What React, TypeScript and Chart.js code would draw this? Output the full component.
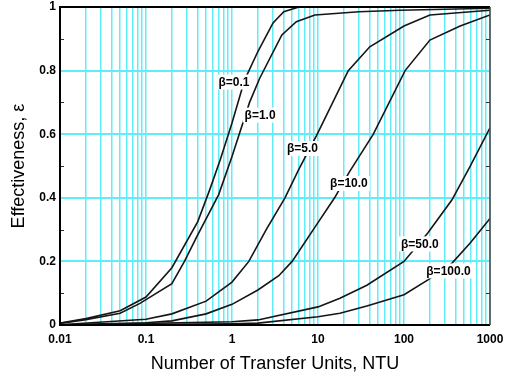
import React, { useEffect, useRef } from 'react';
import { Chart, registerables } from 'chart.js';

Chart.register(...registerables);

const FONT = '"Liberation Sans", Arial, Helvetica, sans-serif';
const GRID = 'rgb(95,238,248)';

const xTickLabels = ['0.01', '0.1', '1', '10', '100', '1000'];
const yTickLabels = ['0', '0.2', '0.4', '0.6', '0.8', '1'];
const seriesNames = ['β=0.1', 'β=1.0', 'β=5.0', 'β=10.0', 'β=50.0', 'β=100.0'];

// β = 0.1
const ntuB01 = [0.01, 0.02, 0.05, 0.1, 0.2, 0.4, 0.55, 0.73, 1, 1.4, 2, 3, 4, 6, 1000];
const effB01 = [0.006, 0.02, 0.045, 0.088, 0.18, 0.325, 0.425, 0.52, 0.635, 0.77, 0.86, 0.95, 0.985, 1.0, 1.0];
// β = 1.0
const ntuB1 = [0.01, 0.02, 0.05, 0.085, 0.2, 0.28, 0.39, 0.7, 1, 1.6, 2.1, 3.8, 5.6, 9.2, 30, 90, 1000];
const effB1 = [0.005, 0.017, 0.037, 0.068, 0.13, 0.2, 0.278, 0.41, 0.53, 0.7, 0.776, 0.912, 0.954, 0.975, 0.985, 0.99, 0.996];
// β = 5.0
const ntuB5 = [0.01, 0.1, 0.2, 0.5, 1, 1.57, 2.5, 4.13, 6, 9.8, 22.5, 40, 100, 200, 1000];
const effB5 = [0.001, 0.018, 0.035, 0.075, 0.135, 0.2, 0.3, 0.4, 0.49, 0.6, 0.8, 0.875, 0.94, 0.975, 0.99];
// β = 10.0
const ntuB10 = [0.01, 0.1, 0.2, 0.5, 1, 2, 3.5, 5, 9.6, 15.6, 23, 44, 103, 200, 450, 1000];
const effB10 = [0.0005, 0.007, 0.013, 0.035, 0.065, 0.11, 0.155, 0.2, 0.315, 0.4, 0.48, 0.6, 0.8, 0.896, 0.94, 0.975];
// β = 50.0
const ntuB50 = [0.01, 1, 2, 10, 18, 37, 100, 190, 360, 585, 1000];
const effB50 = [0.0, 0.01, 0.016, 0.057, 0.084, 0.125, 0.2, 0.29, 0.393, 0.498, 0.62];
// β = 100.0
const ntuB100 = [0.01, 1, 2, 10, 18, 37, 100, 190, 360, 585, 1000];
const effB100 = [0.0, 0.004, 0.006, 0.026, 0.037, 0.06, 0.095, 0.142, 0.194, 0.257, 0.335];

// label anchors (NTU, ε)
const labelNtu = [1.055, 2.12, 6.6, 22.9, 153, 329];
const labelEff = [0.764, 0.66, 0.555, 0.445, 0.255, 0.17];

const seriesNtu = [ntuB01, ntuB1, ntuB5, ntuB10, ntuB50, ntuB100];
const seriesEff = [effB01, effB1, effB5, effB10, effB50, effB100];

const logTickValues: number[] = [];
for (let e = -2; e <= 3; e++) {
  for (let m = 1; m <= 9; m++) {
    const v = parseFloat((m * Math.pow(10, e)).toPrecision(6));
    if (v <= 1000) logTickValues.push(v);
  }
}
const yTickValues = [0, 0.1, 0.2, 0.3, 0.4, 0.5, 0.6, 0.7, 0.8, 0.9, 1];

const framePlugin = {
  id: 'frameAndLabels',
  afterDatasetsDraw(chart: any) {
    const { ctx, chartArea, scales } = chart;
    const { left, right, top, bottom } = chartArea;
    const x = scales.x;
    const y = scales.y;
    ctx.save();
    ctx.strokeStyle = '#333';
    ctx.lineWidth = 1;
    [0.1, 0.3, 0.5, 0.7, 0.9].forEach((v) => {
      const py = Math.round(y.getPixelForValue(v)) + 0.5;
      ctx.beginPath();
      ctx.moveTo(left, py);
      ctx.lineTo(left + 4, py);
      ctx.moveTo(right, py);
      ctx.lineTo(right - 4, py);
      ctx.stroke();
    });
    ctx.strokeStyle = '#000';
    ctx.lineWidth = 2;
    ctx.beginPath();
    ctx.moveTo(right, top);
    ctx.lineTo(left, top);
    ctx.lineTo(left, bottom);
    ctx.lineTo(right, bottom);
    ctx.stroke();
    ctx.strokeStyle = '#444';
    ctx.lineWidth = 1.5;
    ctx.beginPath();
    ctx.moveTo(right, top);
    ctx.lineTo(right, bottom);
    ctx.stroke();
    ctx.font = `bold 12px ${FONT}`;
    ctx.textAlign = 'center';
    ctx.textBaseline = 'middle';
    seriesNames.forEach((name, i) => {
      const px = x.getPixelForValue(labelNtu[i]);
      const py = y.getPixelForValue(labelEff[i]);
      const w = ctx.measureText(name).width;
      ctx.fillStyle = '#fff';
      ctx.fillRect(px - w / 2 - 2, py - 7.5, w + 4, 15);
      ctx.fillStyle = '#000';
      ctx.fillText(name, px, py + 0.5);
    });
    ctx.restore();
  },
};

export default function App() {
  const canvasRef = useRef<HTMLCanvasElement | null>(null);

  useEffect(() => {
    const canvas = canvasRef.current;
    if (!canvas) return;
    const datasets = seriesNames.map((name, i) => ({
      label: name,
      data: seriesNtu[i].map((n, j) => ({ x: n, y: seriesEff[i][j] })),
      borderColor: '#151515',
      borderWidth: 1.6,
      pointRadius: 0,
      tension: 0,
      fill: false,
    }));

    const chart = new Chart(canvas, {
      type: 'line',
      data: { datasets },
      plugins: [framePlugin],
      options: {
        animation: false,
        responsive: false,
        maintainAspectRatio: false,
        layout: { padding: { top: 7, right: 17, left: 0, bottom: 0 } },
        plugins: {
          legend: { display: false },
          tooltip: { enabled: false },
        },
        scales: {
          x: {
            type: 'logarithmic',
            min: 0.01,
            max: 1000,
            afterBuildTicks: (s: any) => {
              s.ticks = logTickValues.map((v) => ({ value: v }));
            },
            afterFit: (s: any) => {
              s.height = 52;
              s.paddingLeft = 0;
              s.paddingRight = 0;
            },
            ticks: {
              autoSkip: false,
              maxRotation: 0,
              padding: 7,
              color: '#000',
              font: { family: FONT, size: 12, weight: 'bold' },
              callback: (v: any) => {
                const val = Number(v);
                const l = Math.log10(val);
                if (Math.abs(l - Math.round(l)) < 1e-6) {
                  return xTickLabels[Math.round(l) + 2];
                }
                return '';
              },
            },
            grid: { color: GRID, lineWidth: 1.5, drawTicks: false },
            border: { display: false },
            title: {
              display: true,
              text: 'Number of Transfer Units, NTU',
              color: '#000',
              font: { family: FONT, size: 18 },
              padding: { top: 4, bottom: 2 },
            },
          },
          y: {
            type: 'linear',
            min: 0,
            max: 1,
            afterBuildTicks: (s: any) => {
              s.ticks = yTickValues.map((v) => ({ value: v }));
            },
            afterFit: (s: any) => {
              s.width = 60;
              s.paddingTop = 0;
              s.paddingBottom = 0;
            },
            ticks: {
              autoSkip: false,
              padding: 4,
              color: '#000',
              font: { family: FONT, size: 12, weight: 'bold' },
              callback: (v: any) => {
                const k = Math.round(Number(v) * 10);
                return k % 2 === 0 ? yTickLabels[k / 2] : '';
              },
            },
            grid: {
              color: (ctx: any) =>
                ctx.tick && Math.round(ctx.tick.value * 10) % 2 === 0 ? GRID : 'rgba(0,0,0,0)',
              lineWidth: 2,
              drawTicks: false,
            },
            border: { display: false },
            title: {
              display: true,
              text: 'Effectiveness, ε',
              color: '#000',
              font: { family: FONT, size: 18 },
              padding: { top: 8.5, bottom: 0 },
            },
          },
        },
      } as any,
    });
    return () => chart.destroy();
  }, []);

  return (
    <div style={{ position: 'absolute', left: 0, top: 0, width: 507, height: 377, background: '#fff' }}>
      <canvas ref={canvasRef} width={507} height={377} style={{ display: 'block' }} />
    </div>
  );
}
